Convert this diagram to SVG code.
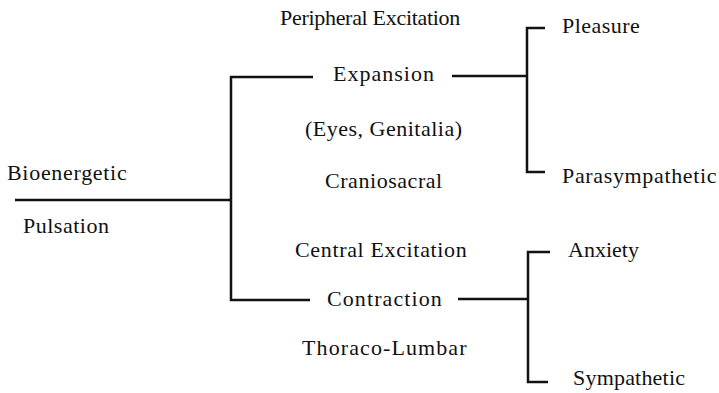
<svg xmlns="http://www.w3.org/2000/svg" width="719" height="393" viewBox="0 0 719 393">
<style>
.c{fill:none;stroke:#111111;stroke-width:2.5}
.t{font-family:'Liberation Serif','Times New Roman',serif;font-size:22px;fill:#111111}
</style>
<rect width="719" height="393" fill="#ffffff"/>
<g id="connectors">
<polyline class="c" points="15,200 231,200"/>
<polyline class="c" points="313,77 231,77 231,300 310,300"/>
<polyline class="c" points="452,76 527,76"/>
<polyline class="c" points="545,28 527,28 527,172 545,172"/>
<polyline class="c" points="458,299 528,299"/>
<polyline class="c" points="550,252 528,252 528,382 548,382"/>
</g>
<g id="bioenergetic">
<text class="t" x="7" y="180" font-family="Liberation Serif, serif" font-size="22" letter-spacing="0.7">Bioenergetic</text>
<text class="t" x="23" y="233" font-family="Liberation Serif, serif" font-size="22" letter-spacing="0.5">Pulsation</text>
</g>
<g id="expansion">
<text class="t" x="280" y="25" font-family="Liberation Serif, serif" font-size="22" letter-spacing="-0.3">Peripheral Excitation</text>
<text class="t" x="333" y="81" font-family="Liberation Serif, serif" font-size="22" letter-spacing="1">Expansion</text>
<text class="t" x="305" y="136" font-family="Liberation Serif, serif" font-size="22" letter-spacing="0.5">(Eyes, Genitalia)</text>
<text class="t" x="325" y="188" font-family="Liberation Serif, serif" font-size="22" letter-spacing="0.55">Craniosacral</text>
</g>
<g id="contraction">
<text class="t" x="295" y="257" font-family="Liberation Serif, serif" font-size="22" letter-spacing="0.65">Central Excitation</text>
<text class="t" x="327" y="306" font-family="Liberation Serif, serif" font-size="22" letter-spacing="1.1">Contraction</text>
<text class="t" x="302" y="355" font-family="Liberation Serif, serif" font-size="22" letter-spacing="1.1">Thoraco-Lumbar</text>
</g>
<g id="pleasure"><text class="t" x="562" y="33" font-family="Liberation Serif, serif" font-size="22" letter-spacing="0.45">Pleasure</text></g>
<g id="parasympathetic"><text class="t" x="562" y="183" font-family="Liberation Serif, serif" font-size="22" letter-spacing="0.65">Parasympathetic</text></g>
<g id="anxiety"><text class="t" x="568" y="257" font-family="Liberation Serif, serif" font-size="22">Anxiety</text></g>
<g id="sympathetic"><text class="t" x="573" y="385" font-family="Liberation Serif, serif" font-size="22" letter-spacing="0.2">Sympathetic</text></g>
</svg>
